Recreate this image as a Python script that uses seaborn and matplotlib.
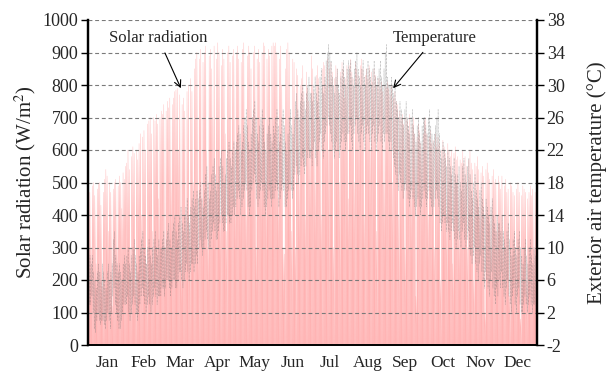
import numpy as np
import pandas as pd
import matplotlib
matplotlib.use("Agg")
import matplotlib.pyplot as plt
import seaborn as sns

months = ["Jan", "Feb", "Mar", "Apr", "May", "Jun", "Jul", "Aug", "Sep", "Oct", "Nov", "Dec"]
month_days = [31, 28, 31, 30, 31, 30, 31, 31, 30, 31, 30, 31]

# Daily peak solar radiation (W/m2)
solar_jan = [480, 470, 300, 490, 500, 460, 250, 480, 495, 500, 430, 180, 470, 510, 540, 520, 350, 500, 470, 120, 480, 500, 510, 300, 490, 520, 500, 420, 530, 510, 550]
solar_feb = [560, 600, 540, 300, 580, 610, 590, 200, 600, 570, 620, 650, 400, 640, 660, 600, 250, 680, 690, 700, 650, 350, 700, 690, 710, 680, 450, 700]
solar_mar = [720, 710, 740, 300, 720, 750, 730, 760, 500, 740, 760, 780, 785, 790, 600, 770, 250, 740, 760, 720, 400, 780, 800, 350, 820, 780, 500, 850, 880, 900, 300]
solar_apr = [880, 910, 450, 870, 900, 920, 600, 300, 890, 910, 850, 700, 920, 500, 880, 930, 900, 400, 860, 910, 880, 650, 350, 900, 920, 870, 600, 890, 910, 450]
solar_may = [900, 920, 880, 500, 870, 910, 930, 650, 400, 890, 920, 900, 850, 700, 900, 920, 300, 880, 910, 870, 600, 900, 930, 920, 500, 880, 910, 890, 700, 920, 930]
solar_jun = [920, 930, 900, 450, 880, 920, 800, 300, 280, 850, 910, 930, 900, 600, 350, 880, 870, 300, 850, 830, 500, 800, 820, 860, 780, 400, 840, 790, 750, 600]
solar_jul = [890, 850, 780, 500, 830, 860, 820, 700, 400, 850, 870, 860, 800, 880, 600, 850, 870, 840, 300, 820, 860, 850, 780, 500, 840, 870, 850, 760, 820, 860, 450]
solar_aug = [860, 880, 840, 820, 500, 870, 850, 830, 700, 860, 880, 850, 400, 830, 850, 820, 860, 600, 840, 810, 850, 830, 350, 800, 820, 790, 810, 780, 500, 800, 790]
solar_sep = [810, 790, 770, 800, 500, 760, 780, 750, 740, 400, 720, 700, 710, 680, 300, 700, 690, 660, 710, 500, 680, 700, 650, 150, 640, 680, 660, 620, 600, 650]
solar_oct = [690, 700, 650, 400, 640, 660, 620, 630, 300, 650, 610, 640, 620, 200, 600, 630, 610, 590, 400, 620, 600, 580, 600, 250, 590, 610, 570, 580, 350, 570, 560]
solar_nov = [600, 560, 580, 550, 300, 570, 600, 560, 540, 200, 560, 550, 580, 540, 400, 530, 550, 520, 100, 540, 560, 530, 510, 300, 520, 540, 500, 510, 350, 520]
solar_dec = [500, 480, 520, 300, 490, 510, 470, 480, 150, 500, 490, 470, 460, 300, 480, 500, 470, 80, 460, 490, 480, 470, 200, 450, 470, 490, 460, 480, 300, 470, 480]

# Daily max / min exterior air temperature (deg C), read approximately
tmax_jan = [10, 9, 8, 9, 7, 6, 5, 7, 8, 7, 6, 8, 7, 6, 5, 7, 8, 6, 7, 8, 11, 12, 9, 8, 7, 8, 7, 6, 8, 9, 8]
tmin_jan = [4, 3, 3, 4, 2, 0, -0.5, 1, 2, 1, 0.5, 1, 1, 0.5, 0, 1, 2, 1, 0, 2, 4, 5, 3, 2, 1, 0, 0, 1, 2, 3, 3]
tmax_feb = [9, 10, 8, 7, 9, 10, 11, 9, 8, 7, 9, 10, 11, 12, 10, 9, 8, 10, 11, 9, 8, 10, 11, 12, 10, 9, 11, 10]
tmin_feb = [3, 4, 2, 1, 2, 3, 4, 3, 2, 1, 2, 3, 4, 5, 4, 3, 2, 3, 4, 3, 2, 3, 4, 5, 4, 3, 4, 4]
tmax_mar = [10, 11, 12, 10, 11, 12, 13, 11, 10, 12, 13, 14, 12, 11, 13, 14, 15, 13, 12, 14, 15, 16, 14, 13, 15, 16, 17, 15, 16, 17, 16]
tmin_mar = [4, 5, 5, 4, 5, 6, 6, 5, 4, 5, 6, 6, 5, 5, 6, 7, 7, 6, 5, 6, 7, 8, 7, 6, 7, 8, 8, 7, 8, 9, 8]
tmax_apr = [17, 18, 16, 15, 17, 19, 20, 18, 16, 17, 19, 20, 21, 19, 17, 18, 20, 21, 22, 20, 18, 19, 21, 22, 23, 21, 20, 22, 23, 22]
tmin_apr = [10, 11, 10, 9, 10, 11, 12, 11, 10, 10, 11, 12, 13, 12, 11, 11, 12, 13, 14, 13, 12, 12, 13, 14, 14, 13, 13, 14, 15, 14]
tmax_may = [23, 24, 25, 24, 22, 23, 25, 26, 27, 25, 23, 22, 24, 26, 27, 28, 26, 24, 23, 25, 26, 27, 25, 23, 22, 24, 25, 26, 24, 23, 25]
tmin_may = [15, 16, 17, 16, 14, 15, 16, 17, 18, 17, 15, 14, 15, 17, 18, 19, 18, 16, 15, 16, 17, 18, 17, 15, 14, 15, 16, 17, 16, 15, 16]
tmax_jun = [24, 26, 27, 25, 23, 24, 26, 27, 25, 23, 22, 24, 26, 27, 25, 24, 26, 28, 29, 27, 26, 28, 29, 30, 28, 27, 29, 30, 31, 29]
tmin_jun = [16, 17, 18, 17, 15, 16, 17, 18, 17, 15, 15, 16, 17, 18, 17, 16, 17, 19, 20, 19, 18, 19, 20, 21, 20, 19, 20, 21, 22, 21]
tmax_jul = [29, 28, 30, 31, 29, 28, 30, 31, 32, 30, 29, 31, 33, 34, 35, 34, 33, 31, 30, 29, 31, 32, 30, 29, 31, 32, 33, 31, 30, 32, 33]
tmin_jul = [21, 20, 22, 23, 21, 20, 22, 23, 24, 22, 21, 23, 24, 25, 26, 25, 24, 23, 22, 21, 22, 23, 22, 21, 22, 23, 24, 23, 22, 23, 24]
tmax_aug = [32, 33, 31, 30, 32, 33, 34, 32, 31, 30, 32, 33, 31, 30, 32, 33, 32, 31, 30, 32, 33, 31, 30, 31, 32, 33, 31, 30, 32, 34, 35]
tmin_aug = [24, 25, 23, 22, 24, 25, 26, 24, 23, 22, 24, 25, 23, 22, 24, 25, 24, 23, 22, 24, 25, 23, 22, 23, 24, 25, 23, 22, 24, 23, 24]
tmax_sep = [31, 30, 30, 31, 30, 29, 30, 28, 27, 26, 28, 27, 26, 25, 27, 28, 26, 25, 24, 26, 27, 25, 24, 23, 25, 26, 24, 23, 25, 26]
tmin_sep = [24, 23, 22, 23, 22, 21, 20, 19, 18, 17, 19, 18, 17, 16, 17, 18, 17, 16, 15, 16, 17, 16, 15, 14, 15, 16, 15, 14, 15, 16]
tmax_oct = [26, 25, 24, 26, 27, 25, 24, 23, 24, 25, 26, 27, 24, 22, 21, 23, 22, 21, 20, 22, 21, 20, 19, 20, 21, 19, 18, 19, 20, 18, 17]
tmin_oct = [17, 16, 15, 16, 17, 16, 15, 14, 15, 16, 17, 16, 15, 13, 12, 13, 14, 13, 12, 13, 12, 11, 12, 13, 12, 11, 10, 11, 12, 11, 10]
tmax_nov = [20, 21, 19, 18, 20, 21, 19, 17, 16, 18, 19, 17, 16, 15, 17, 18, 16, 15, 14, 16, 15, 14, 13, 15, 16, 14, 13, 12, 14, 13]
tmin_nov = [12, 13, 11, 10, 11, 12, 10, 9, 8, 9, 10, 8, 7, 6, 8, 9, 7, 6, 5, 7, 6, 5, 4, 6, 7, 5, 4, 3, 5, 4]
tmax_dec = [13, 12, 14, 12, 11, 10, 12, 13, 11, 10, 9, 11, 12, 10, 9, 11, 12, 10, 9, 8, 10, 11, 9, 8, 10, 11, 9, 8, 10, 9, 8]
tmin_dec = [6, 5, 7, 5, 4, 3, 5, 6, 4, 3, 2, 4, 5, 3, 2, 4, 5, 3, 2, 2, 3, 4, 3, 2, 3, 4, 3, 2, 3, 3, 2]

solar_peak = np.array(solar_jan + solar_feb + solar_mar + solar_apr + solar_may + solar_jun +
                      solar_jul + solar_aug + solar_sep + solar_oct + solar_nov + solar_dec, float)
tmax = np.array(tmax_jan + tmax_feb + tmax_mar + tmax_apr + tmax_may + tmax_jun +
                tmax_jul + tmax_aug + tmax_sep + tmax_oct + tmax_nov + tmax_dec, float)
tmin = np.array(tmin_jan + tmin_feb + tmin_mar + tmin_apr + tmin_may + tmin_jun +
                tmin_jul + tmin_aug + tmin_sep + tmin_oct + tmin_nov + tmin_dec, float)

n_days = len(solar_peak)
days = np.arange(n_days)

# Daily cycle: zero at night, peak at noon
solar_df = pd.DataFrame({
    "t": (days[:, None] + np.array([0.02, 0.5, 0.98])[None, :]).ravel(),
    "W": np.stack([np.zeros(n_days), solar_peak, np.zeros(n_days)], axis=1).ravel(),
})
temp_df = pd.DataFrame({
    "t": (days[:, None] + np.array([0.2, 0.62])[None, :]).ravel(),
    "T": np.stack([tmin, tmax], axis=1).ravel(),
})

sns.set_style("white")
plt.rcParams["font.family"] = ["Liberation Serif", "DejaVu Serif"]
plt.rcParams["mathtext.fontset"] = "stix"
plt.rcParams["axes.unicode_minus"] = False

fig = plt.figure(figsize=(6.14, 3.71), dpi=100)
ax = fig.add_axes([88 / 614, 26 / 371, (537 - 88) / 614, (345 - 20) / 371])

ax.fill_between(solar_df["t"], 0, solar_df["W"], color="#ffbcbc", linewidth=0, zorder=1.5)
sns.lineplot(data=solar_df, x="t", y="W", ax=ax, estimator=None, sort=False,
             color="#ffa8a8", linewidth=0.3, alpha=0.8)
ax.set_xlim(0, n_days)
ax.set_ylim(0, 1000)
ax.set_yticks(np.arange(0, 1001, 100))
ax.set_axisbelow(False)
ax.grid(axis="y", color="#7a7a7a", linestyle=(0, (3.5, 2.5)), linewidth=0.8)
ax.grid(axis="x", visible=False)

bounds = np.concatenate([[0], np.cumsum(month_days)])
centers = (bounds[:-1] + bounds[1:]) / 2
ax.set_xticks(centers)
ax.set_xticklabels(months)
ax.set_xticks(bounds[1:-1], minor=True)
ax.tick_params(axis="x", which="major", length=0, pad=7, labelsize=12.5)
ax.tick_params(axis="x", which="minor", length=4, width=0.8, direction="out", color="black")
ax.tick_params(axis="y", length=5, width=1.0, direction="out", labelsize=13, color="black", pad=2)
ax.set_xlabel("")
ax.set_ylabel("Solar radiation (W/m$^2$)", fontsize=15, labelpad=3)

ax2 = ax.twinx()
sns.lineplot(data=temp_df, x="t", y="T", ax=ax2, estimator=None, sort=False,
             color="#6a6a6a", linewidth=0.4, alpha=0.6, linestyle=(0, (1, 1.5)))
ax2.set_ylim(-2, 38)
ax2.set_yticks(np.arange(-2, 39, 4))
ax2.set_xlim(0, n_days)
ax2.grid(False)
ax2.tick_params(axis="y", length=5, width=1.0, direction="out", labelsize=13, color="black", pad=2)
ax2.set_ylabel("Exterior air temperature (°C)", fontsize=15, labelpad=16)
ax2.set_xlabel("")

for a in (ax, ax2):
    a.spines["top"].set_visible(False)
    a.spines["left"].set_linewidth(1.6)
    a.spines["right"].set_linewidth(1.6)
    a.spines["bottom"].set_linewidth(1.2)
    for s in a.spines.values():
        s.set_color("black")

ax.annotate("Solar radiation", xy=(75.5, 790), xytext=(57, 945), fontsize=12,
            ha="center", va="center",
            arrowprops=dict(arrowstyle="->", color="black", lw=0.8, shrinkA=3, shrinkB=0))
ax2.annotate("Temperature", xy=(248, 29.6), xytext=(282, 35.8), fontsize=12,
             ha="center", va="center",
             arrowprops=dict(arrowstyle="->", color="black", lw=0.8, shrinkA=3, shrinkB=0))

fig.savefig("out.png", dpi=100)
